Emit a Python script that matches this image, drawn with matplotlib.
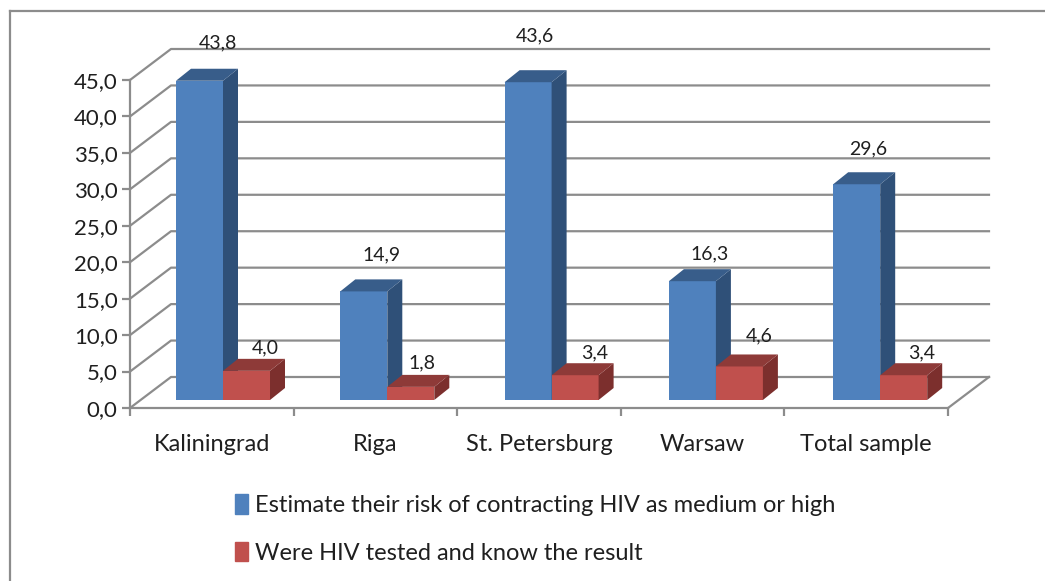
import matplotlib
matplotlib.use('Agg')
import matplotlib.pyplot as plt
from matplotlib.lines import Line2D
from matplotlib.patches import Patch, Polygon

plt.rcParams['font.family'] = ['Lato', 'DejaVu Sans']

cities = ['Kaliningrad', 'Riga', 'St. Petersburg', 'Warsaw', 'Total sample']
risk = [43.8, 14.9, 43.6, 16.3, 29.6]
tested = [4.0, 1.8, 3.4, 4.6, 3.4]
risk_label = 'Estimate their risk of contracting HIV as medium or high'
tested_label = 'Were HIV tested and know the result'
yticks = [0, 5, 10, 15, 20, 25, 30, 35, 40, 45]

W, H = 1045, 581
x0, x1, y0, y1 = 130, 948, 408, 80  # front plane of the plot, in pixels
px_x = 5 / (x1 - x0)  # data units for one pixel
px_y = 45 / (y0 - y1)

grey = '#8c8c8c'
text_col = '#1f1f1f'
blue = ('#4f81bd', '#2f5078', '#385d8a')  # front, side, top
red = ('#c0504d', '#7c2f2d', '#8e3a38')

fig = plt.figure(figsize=(W / 100, H / 100), dpi=100)
ax = fig.add_axes([x0 / W, 1 - y0 / H, (x1 - x0) / W, (y0 - y1) / H])
ax.set_xlim(0, 5)
ax.set_ylim(0, 45)
ax.patch.set_visible(False)

# outer frame, only top and left show
fig.add_artist(Line2D([10 / W, 10 / W], [0, 1 - 11 / H], color=grey, lw=1.6))
fig.add_artist(Line2D([10 / W, 1], [1 - 11 / H, 1 - 11 / H], color=grey, lw=1.6))

# back wall and side floor
wall_dx = 41 * px_x
wall_dy = 31 * px_y
for v in yticks:
    ax.plot([0, wall_dx, 5 + wall_dx], [v, v + wall_dy, v + wall_dy],
            color=grey, lw=1.6, clip_on=False, zorder=1)
ax.plot([5, 5 + wall_dx], [0, wall_dy], color=grey, lw=1.6, clip_on=False, zorder=1)


def bar3d(left, value, cols):
    width = 47 * px_x
    base = 8 * px_y
    dx = 15 * px_x
    dy = 12 * px_y
    top = base + value
    ax.bar(left, value, width, bottom=base, align='edge', color=cols[0],
           clip_on=False, zorder=3)
    ax.add_patch(Polygon([(left + width, base), (left + width + dx, base + dy),
                          (left + width + dx, top + dy), (left + width, top)],
                         color=cols[1], lw=0, clip_on=False, zorder=3))
    ax.add_patch(Polygon([(left, top), (left + dx, top + dy),
                          (left + width + dx, top + dy), (left + width, top)],
                         color=cols[2], lw=0, clip_on=False, zorder=3))
    return left + width, top


# label nudges in pixels from the bar's top left corner
risk_nudge = [(42, 38), (41, 37), (30, 46), (41, 27), (35, 35)]
tested_nudge = [(42, 23), (35, 24), (43, 22), (43, 31), (41, 22)]

for i in range(5):
    left = i + 0.5 - (35.8 - 0.7 * i) * px_x
    mid, top = bar3d(left, risk[i], blue)
    ax.annotate(f'{risk[i]:.1f}'.replace('.', ','), (left, top),
                xytext=risk_nudge[i], textcoords='offset pixels', ha='center',
                va='center', fontsize=14, color=text_col, zorder=5)
    _, top2 = bar3d(mid, tested[i], red)
    ax.annotate(f'{tested[i]:.1f}'.replace('.', ','), (mid, top2),
                xytext=tested_nudge[i], textcoords='offset pixels', ha='center',
                va='center', fontsize=14, color=text_col, zorder=5)

for s in ['top', 'right']:
    ax.spines[s].set_visible(False)
for s in ['left', 'bottom']:
    ax.spines[s].set_color(grey)
    ax.spines[s].set_linewidth(1.6)
    ax.spines[s].set_zorder(2)

ax.set_yticks(yticks)
ax.set_yticklabels([f'{v:.1f}'.replace('.', ',') for v in yticks], fontsize=16, color=text_col)
ax.set_xticks(range(6))
ax.set_xticklabels([])
ax.set_xticks([i + 0.5 for i in range(5)], minor=True)
ax.set_xticklabels(cities, minor=True, fontsize=17, color=text_col)
ax.tick_params(axis='both', which='major', color=grey, length=5.5, width=1.6)
ax.tick_params(axis='y', pad=3.5)
ax.tick_params(axis='x', which='minor', length=0, pad=19)

handles = [Patch(color=blue[0], label=risk_label), Patch(color=red[0], label=tested_label)]
fig.legend(handles=handles, loc='upper left', bbox_to_anchor=(225.6 / W, 1 - 485 / H),
           frameon=False, fontsize=17, labelcolor=text_col, handlelength=0.55,
           handleheight=0.9, handletextpad=0.28, labelspacing=1.08, borderpad=0.4,
           borderaxespad=0)

fig.savefig('out.png', dpi=100)
